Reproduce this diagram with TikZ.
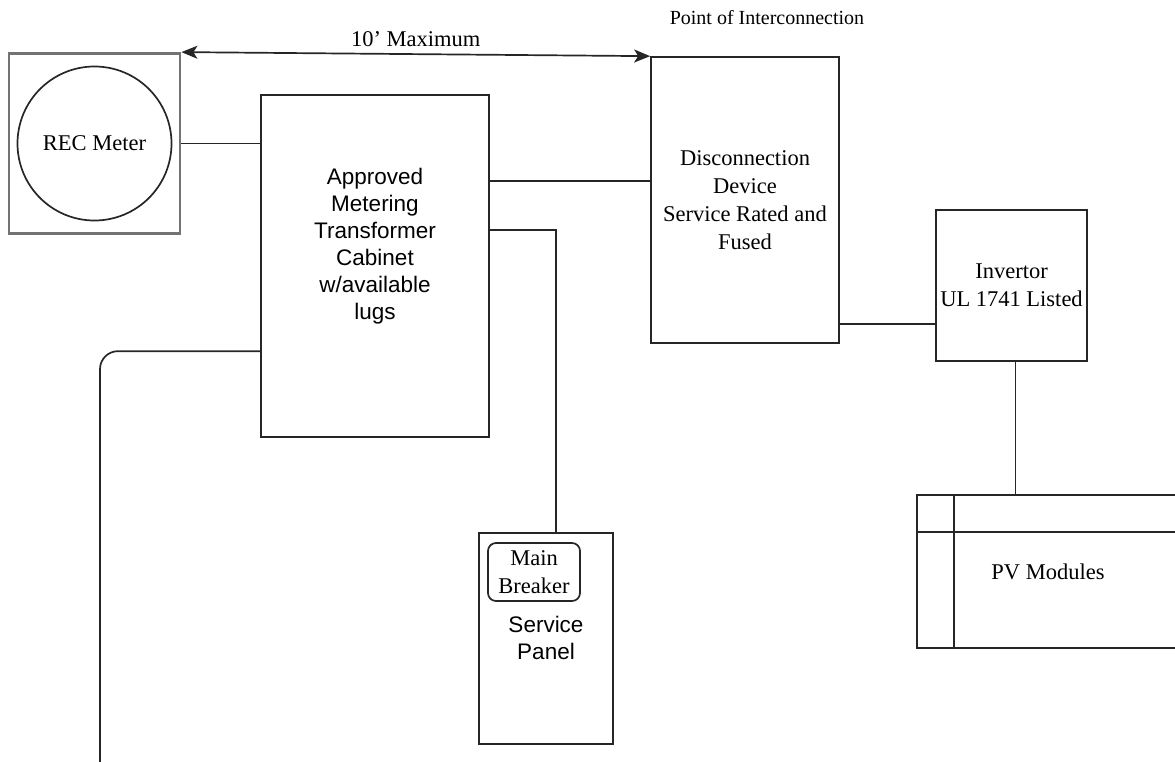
\documentclass[tikz,border=0pt]{standalone}
\usepackage{fontspec}
\setmainfont{Liberation Serif}
\setsansfont{Liberation Sans}
\usetikzlibrary{arrows.meta,positioning}
\tikzset{
      blockbox/.style={
        draw=black!85,
        line width=1.7pt,
        align=center,
        inner sep=1pt,
        font=\fontsize{22.5}{28}\selectfont
      },
      meterbox/.style={
        draw=black!55,
        line width=2.8pt,
        minimum width=171pt,
        minimum height=180pt
      },
      labeltext/.style={
        align=center,
        inner sep=0pt,
        font=\fontsize{22.5}{27}\selectfont
      },
      sanstext/.style={
        align=center,
        inner sep=0pt,
        font=\sffamily\fontsize{22.5}{27}\selectfont
      },
      wire/.style={
        draw=black!85,
        line width=1.7pt
      }
    }

\begin{document}
\begin{tikzpicture}[x=1pt,y=-1pt]
    \clip (0,0) rectangle (1175,761);
    \node[meterbox] (rec) at (94.5,143.5) {};
    \node[blockbox, circle, minimum size=154pt] (meter) at (94.5,143.5) {REC Meter};
    \node[blockbox, minimum width=228pt, minimum height=342pt] (cab) at (375,266) {};
    \node[sanstext] (cabtext) at (375,246) {Approved\\Metering\\Transformer\\Cabinet\\w/available\\lugs};
    \node[blockbox, minimum width=188pt, minimum height=286pt] (disc) at (745,200) {Disconnection\\Device\\Service Rated and\\Fused};
    \node[labeltext, font=\fontsize{20}{24}\selectfont] (poi) at (767,18) {Point of Interconnection};
    \node[blockbox, minimum width=151pt, minimum height=151pt] (inv) at (1011.5,285.5) {Invertor\\UL 1741 Listed};
    \node[blockbox, minimum width=134pt, minimum height=211pt] (panel) at (546,638.5) {};
    \node[blockbox, rounded corners=8pt, minimum width=92pt, minimum height=58pt, inner sep=1pt] (brk) at (534,572) {Main\\Breaker};
    \node[sanstext] (paneltext) at (546,638) {Service\\Panel};
    \node[blockbox, minimum width=283pt, minimum height=153pt] (pv) at (1058.5,571.5) {};
    \node[labeltext] (pvtext) at (1048,572) {PV Modules};
    \draw[wire] ([xshift=38pt]pv.north west) -- ([xshift=38pt]pv.south west);
    \draw[wire] ([yshift=-38pt]pv.north west) -- ([yshift=-38pt]pv.north east);
    \coordinate (feed) at (100,770);

    % connectors
    \draw[wire, {Stealth[length=16pt,width=13pt,inset=4pt]}-{Stealth[length=16pt,width=13pt,inset=4pt]}] (rec.north east) -- node[labeltext, above=7pt] (maxlbl) {10' Maximum} (disc.north west);
    \draw[wire] (rec.east) -- (cab.west |- rec.east);
    \draw[wire] ([yshift=-87pt]cab.north east) -- ([yshift=-87pt]cab.north east -| disc.west);
    \draw[wire] ([yshift=-136pt]cab.north east) -| ([xshift=10pt]panel.north);
    \draw[wire] ([yshift=20pt]disc.south east) -- ([yshift=20pt]disc.south east -| inv.west);
    \draw[wire] ([xshift=4pt]inv.south) -- ([xshift=4pt]inv.south |- pv.north);
    \draw[wire, rounded corners=18pt] ([yshift=-257pt]cab.north west) -| (feed);
    \end{tikzpicture}
\end{document}
